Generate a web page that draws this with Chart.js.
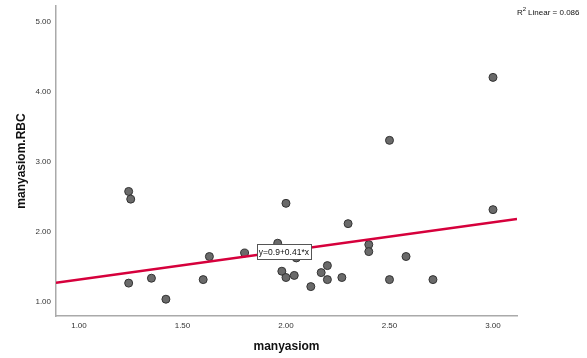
<!DOCTYPE html>
<html><head><meta charset="utf-8">
<script src="https://cdn.jsdelivr.net/npm/chart.js@4.4.0/dist/chart.umd.min.js"></script>
<style>html,body{margin:0;padding:0;background:#fff}#wrap{width:587px;height:358px}</style>
</head><body><div id="wrap"><canvas id="c" width="587" height="358"></canvas></div>
<script>
const xValues = [1.24,1.25,1.24,1.35,1.42,1.60,1.63,1.80,1.96,1.98,2.00,2.00,2.04,2.05,2.12,2.17,2.20,2.20,2.27,2.30,2.40,2.40,2.50,2.50,2.58,2.71,3.00,3.00];
const yValues = [2.57,2.46,1.26,1.33,1.03,1.31,1.64,1.69,1.83,1.43,2.40,1.34,1.37,1.62,1.21,1.41,1.51,1.31,1.34,2.11,1.81,1.71,3.30,1.31,1.64,1.31,4.20,2.31];
const fitIntercept = 0.9;
const fitSlope = 0.41;
const rSquared = "0.086";
const xTicks = [1.0,1.5,2.0,2.5,3.0];
const yTicks = [1,2,3,4,5];
const xRange = [0.889, 3.116];
const yRange = [0.79, 5.22];

const points = xValues.map((x,i)=>({x:x,y:yValues[i]}));
const fitLine = xRange.map(x=>({x:x,y:fitIntercept+fitSlope*x}));

const annot = {
  id:'annot',
  afterDatasetsDraw(chart){
    const ctx = chart.ctx, xs = chart.scales.x, ys = chart.scales.y;
    const lx = 1.99, ly = fitIntercept + fitSlope*lx;
    const px = xs.getPixelForValue(lx), py = ys.getPixelForValue(ly);
    const txt = 'y=0.9+0.41*x';
    ctx.save();
    ctx.font = '8.5px "Liberation Sans", Arial, sans-serif';
    const w = Math.round(ctx.measureText(txt).width + 4);
    const h = 15;
    const bx = Math.round(px - w/2)+0.5, by = Math.round(py - h/2)+0.5;
    ctx.fillStyle = '#fff';
    ctx.fillRect(bx, by, w, h);
    ctx.strokeStyle = '#555';
    ctx.lineWidth = 1;
    ctx.strokeRect(bx, by, w, h);
    ctx.fillStyle = '#111';
    ctx.textAlign = 'center';
    ctx.textBaseline = 'middle';
    ctx.fillText(txt, px, py+1);
    ctx.textAlign = 'left';
    ctx.textBaseline = 'alphabetic';
    ctx.font = '8px "Liberation Sans", Arial, sans-serif';
    let x0 = 517, y0 = 15;
    ctx.fillText('R', x0, y0);
    x0 += ctx.measureText('R').width;
    ctx.font = '6px "Liberation Sans", Arial, sans-serif';
    ctx.fillText('2', x0, y0-4);
    x0 += ctx.measureText('2').width + 2;
    ctx.font = '8px "Liberation Sans", Arial, sans-serif';
    ctx.fillText('Linear = ' + rSquared, x0, y0);
    ctx.restore();
  }
};

new Chart(document.getElementById('c'), {
  type:'scatter',
  data:{datasets:[
    {type:'line', data:fitLine, borderColor:'#d6003c', borderWidth:2.5, pointRadius:0, fill:false, order:0},
    {data:points, backgroundColor:'#6a6a6a', borderColor:'#333', borderWidth:1, pointRadius:4, pointHoverRadius:4, order:1}
  ]},
  plugins:[annot],
  options:{
    responsive:false, animation:false, events:[],
    layout:{padding:{top:0,right:70,left:0,bottom:0}},
    plugins:{legend:{display:false}, tooltip:{enabled:false}},
    scales:{
      x:{type:'linear', min:xRange[0], max:xRange[1],
        afterBuildTicks(s){ s.ticks = xTicks.map(v=>({value:v})); },
        afterFit(s){ s.height = 42; s.paddingLeft = 0; s.paddingRight = 0; },
        grid:{display:false, drawTicks:false},
        border:{display:true, color:'#aaa', width:1.5},
        ticks:{padding:5, color:'#333', font:{family:'"Liberation Sans", Arial, sans-serif', size:8}, callback:v=>Number(v).toFixed(2), maxRotation:0},
        title:{display:true, text:'manyasiom', color:'#111', font:{family:'"Liberation Sans", Arial, sans-serif', size:12, weight:'bold'}, padding:{top:0,bottom:4}}
      },
      y:{type:'linear', min:yRange[0], max:yRange[1],
        afterBuildTicks(s){ s.ticks = yTicks.map(v=>({value:v})); },
        afterFit(s){ s.width = 56; s.paddingTop = 6; s.paddingBottom = 0; },
        grid:{display:false, drawTicks:false},
        border:{display:true, color:'#aaa', width:1.5},
        ticks:{padding:5, color:'#333', font:{family:'"Liberation Sans", Arial, sans-serif', size:8}, callback:v=>Number(v).toFixed(2)},
        title:{display:true, text:'manyasiom.RBC', color:'#111', font:{family:'"Liberation Sans", Arial, sans-serif', size:12, weight:'bold'}, padding:{top:14,bottom:0}}
      }
    }
  }
});
</script></body></html>
